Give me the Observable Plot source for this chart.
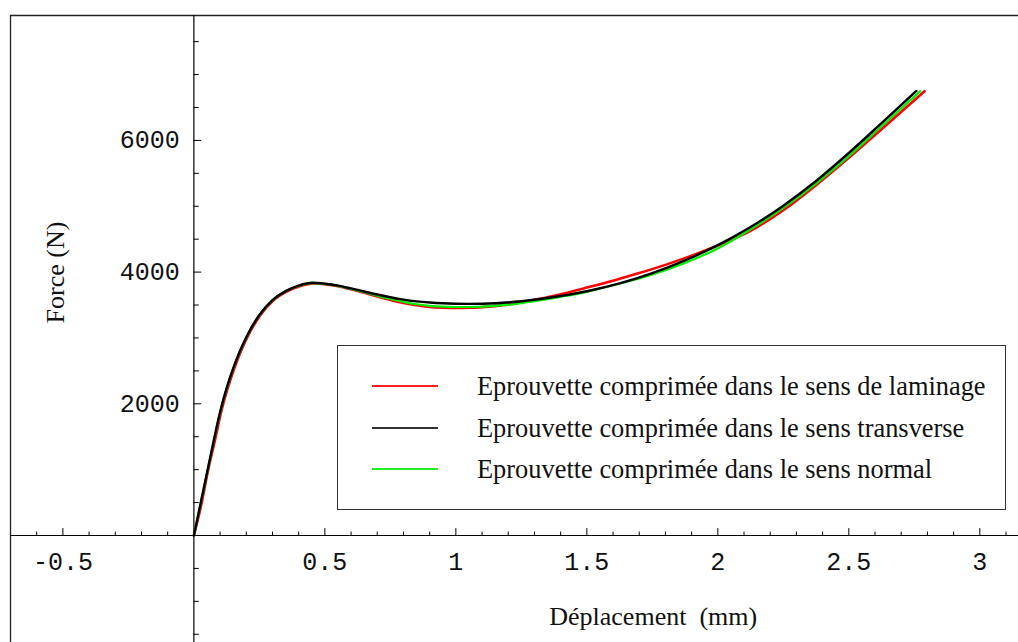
<!DOCTYPE html>
<html><head><meta charset="utf-8">
<script src="https://cdn.jsdelivr.net/npm/d3@7"></script>
<script src="https://cdn.jsdelivr.net/npm/@observablehq/plot@0.6"></script>
<style>
body{margin:0;background:#fff;}
#wrap{position:relative;width:1018px;height:642px;overflow:hidden;background:#fff;}
#legend{position:absolute;left:337px;top:345px;width:669px;height:165px;border:1.5px solid #333;background:#fff;box-sizing:border-box;font-family:"Liberation Serif","Times New Roman",serif;font-size:26.4px;color:#111;}
.sw{position:absolute;left:34px;width:66px;height:2px;}
.lab{position:absolute;left:139px;white-space:nowrap;line-height:30px;height:30px;}
</style></head>
<body><div id="wrap"></div>
<script>
// ---- data (displacement in mm, force in N) ----
const laminageX = [0, 0.029, 0.054, 0.079, 0.104, 0.129, 0.154, 0.179, 0.204, 0.254, 0.304, 0.354, 0.404, 0.46, 0.5, 0.55, 0.6, 0.65, 0.7, 0.75, 0.8, 0.85, 0.9, 0.95, 1.0, 1.05, 1.1, 1.2, 1.3, 1.4, 1.5, 1.6, 1.7, 1.8, 1.9, 2.0, 2.125, 2.25, 2.375, 2.5, 2.625, 2.789];
const laminageF = [0, 481, 987, 1420, 1875, 2237, 2537, 2793, 3012, 3349, 3574, 3705, 3785, 3828, 3818, 3785, 3738, 3685, 3630, 3578, 3533, 3497, 3472, 3459, 3455, 3458, 3468, 3510, 3578, 3665, 3765, 3870, 3985, 4110, 4250, 4405, 4625, 4940, 5320, 5735, 6170, 6748];
const transverseX = [0, 0.025, 0.05, 0.075, 0.1, 0.125, 0.15, 0.175, 0.2, 0.25, 0.3, 0.35, 0.4, 0.452, 0.5, 0.55, 0.6, 0.65, 0.7, 0.75, 0.8, 0.85, 0.9, 0.95, 1.0, 1.05, 1.15, 1.25, 1.35, 1.5, 1.625, 1.75, 1.875, 2.0, 2.125, 2.25, 2.375, 2.5, 2.625, 2.758];
const transverseF = [0, 475, 950, 1425, 1875, 2237, 2537, 2793, 3012, 3349, 3574, 3711, 3795, 3838, 3824, 3795, 3752, 3706, 3660, 3618, 3582, 3556, 3538, 3526, 3520, 3518, 3528, 3558, 3606, 3709, 3828, 3984, 4178, 4409, 4684, 5009, 5384, 5809, 6262, 6751];
const normalX = [0, 0.025, 0.05, 0.075, 0.1, 0.125, 0.15, 0.175, 0.2, 0.25, 0.3, 0.35, 0.4, 0.452, 0.5, 0.55, 0.6, 0.65, 0.7, 0.75, 0.8, 0.85, 0.9, 0.95, 1.0, 1.05, 1.1, 1.2, 1.3, 1.4, 1.5, 1.6, 1.7, 1.8, 1.9, 2.0, 2.125, 2.25, 2.375, 2.5, 2.625, 2.773];
const normalF = [0, 470, 945, 1418, 1868, 2230, 2530, 2788, 3008, 3345, 3570, 3708, 3790, 3833, 3820, 3790, 3744, 3694, 3642, 3592, 3548, 3512, 3488, 3475, 3470, 3470, 3476, 3505, 3560, 3625, 3700, 3800, 3905, 4030, 4180, 4360, 4650, 4975, 5345, 5760, 6215, 6748];

const seriesNames = ["Eprouvette comprimée dans le sens de laminage", "Eprouvette comprimée dans le sens transverse", "Eprouvette comprimée dans le sens normal"];
const seriesColors = ["#ff0000", "#000000", "#00ee00"];
const legendColors = ["#ff2020", "#333333", "#22ee22"];

const xMajor = [-0.5, 0.5, 1, 1.5, 2, 2.5, 3];
const xLabels = ["-0.5", "0.5", "1", "1.5", "2", "2.5", "3"];
const xMinor = [-0.6, -0.4, -0.3, -0.2, -0.1, 0.1, 0.2, 0.3, 0.4, 0.6, 0.7, 0.8, 0.9, 1.1, 1.2, 1.3, 1.4, 1.6, 1.7, 1.8, 1.9, 2.1, 2.2, 2.3, 2.4, 2.6, 2.7, 2.8, 2.9, 3.1];
const yMajor = [2000, 4000, 6000];
const yLabels = ["2000", "4000", "6000"];
const yMinor = [-1500, -1000, -500, 500, 1000, 1500, 2500, 3000, 3500, 4500, 5000, 5500, 6500, 7000, 7500];

const xDomain = [-0.7, 3.1477];
const yDomain = [-1625, 7897];

const toRows = (xs, fs, k) => xs.map((x, i) => ({x, f: fs[i], s: k}));
const lam = toRows(laminageX, laminageF, 0);
const tra = toRows(transverseX, transverseF, 1);
const nor = toRows(normalX, normalF, 2);

const tickShape = {draw(ctx, l) { ctx.moveTo(0, 0); ctx.lineTo(0, -l); }};
const mono = "'Liberation Mono', 'Courier New', monospace";
const serif = "'Liberation Serif', 'Times New Roman', serif";

const plot = Plot.plot({
  width: 1018, height: 642,
  marginLeft: 10, marginTop: 15, marginRight: 0, marginBottom: 0,
  x: {domain: xDomain, axis: null},
  y: {domain: yDomain, axis: null},
  style: {background: "white", overflow: "visible"},
  marks: [
    Plot.ruleY([yDomain[1]], {stroke: "#222", strokeWidth: 1.3}),
    Plot.ruleX([xDomain[0]], {stroke: "#222", strokeWidth: 1.3}),
    Plot.ruleY([0], {stroke: "#000", strokeWidth: 1.2}),
    Plot.ruleX([0], {stroke: "#000", strokeWidth: 1.2}),
    Plot.vector(xMajor, {x: d => d, y: 0, length: 7, anchor: "start", shape: tickShape, stroke: "#000", strokeWidth: 1}),
    Plot.vector(xMinor, {x: d => d, y: 0, length: 3.5, anchor: "start", shape: tickShape, stroke: "#000", strokeWidth: 1}),
    Plot.vector(yMajor, {x: 0, y: d => d, length: 7, rotate: 90, anchor: "start", shape: tickShape, stroke: "#000", strokeWidth: 1}),
    Plot.vector(yMinor, {x: 0, y: d => d, length: 4.5, rotate: 90, anchor: "start", shape: tickShape, stroke: "#000", strokeWidth: 1}),
    Plot.line(lam, {x: "x", y: "f", stroke: seriesColors[0], strokeWidth: 2.6, curve: "monotone-x"}),
    Plot.line(nor, {x: "x", y: "f", stroke: seriesColors[2], strokeWidth: 2.2, curve: "monotone-x"}),
    Plot.line(tra, {x: "x", y: "f", stroke: seriesColors[1], strokeWidth: 2.4, curve: "monotone-x"}),
    Plot.text(xMajor, {x: d => d, y: 0, text: (d, i) => xLabels[i], dy: 27, fontFamily: mono, fontSize: 25, textAnchor: "middle", fill: "#111"}),
    Plot.text(yMajor, {x: 0, y: d => d, text: (d, i) => yLabels[i], dx: -14, fontFamily: mono, fontSize: 25, textAnchor: "end", fill: "#111"}),
    Plot.text(["Déplacement\u00a0\u00a0(mm)"], {frameAnchor: "bottom", dx: 138.7, dy: -17.3, fontFamily: serif, fontSize: 26, textAnchor: "middle", fill: "#111"}),
    Plot.text(["Force (N)"], {frameAnchor: "left", dx: 45, dy: -56.5, rotate: -90, fontFamily: serif, fontSize: 26, textAnchor: "middle", fill: "#111"})
  ]
});

const wrap = document.getElementById("wrap");
wrap.appendChild(plot);

// legend (inside plot area, as in the reference)
const legend = document.createElement("div");
legend.id = "legend";
const rowY = [40, 82, 123];
seriesNames.forEach((name, i) => {
  const sw = document.createElement("div");
  sw.className = "sw";
  sw.style.top = (rowY[i] - 1) + "px";
  sw.style.background = legendColors[i];
  legend.appendChild(sw);
  const lab = document.createElement("div");
  lab.className = "lab";
  lab.style.top = (rowY[i] - 15) + "px";
  lab.textContent = name;
  legend.appendChild(lab);
});
wrap.appendChild(legend);
</script>
</body></html>
